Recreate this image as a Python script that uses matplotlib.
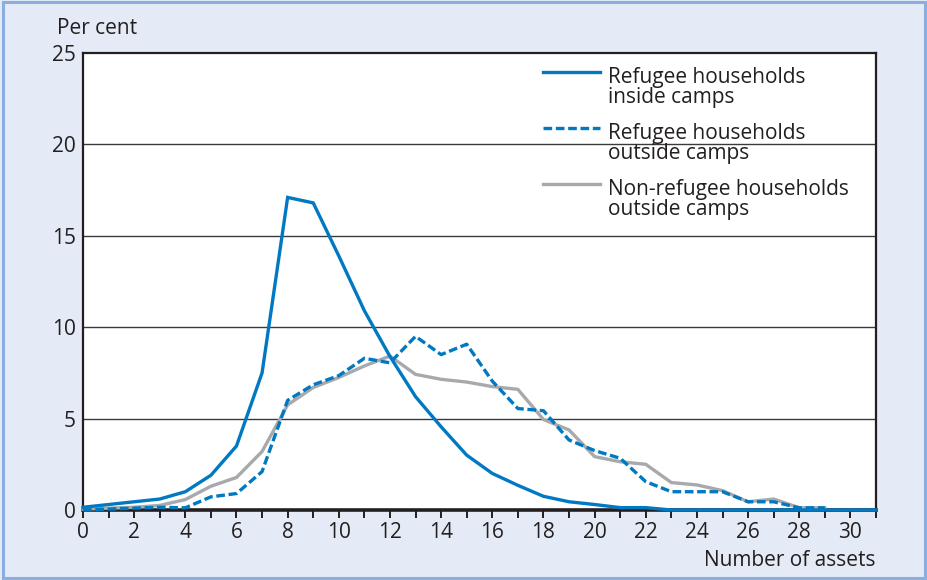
import matplotlib
matplotlib.use("Agg")
import matplotlib.pyplot as plt
from matplotlib.patches import Rectangle
from matplotlib.lines import Line2D

plt.rcParams['font.family'] = ['Open Sans', 'DejaVu Sans']

# Number of assets owned by a household
assets = list(range(0, 32))

# Share of households (per cent) by number of assets
inside_camps = [0.15, 0.3, 0.45, 0.6, 1.0, 1.9, 3.5, 7.5, 17.1, 16.8, 13.9, 10.9,
                8.4, 6.2, 4.55, 3.0, 2.0, 1.35, 0.75, 0.45, 0.3, 0.13, 0.13, 0.0,
                0.0, 0.0, 0.0, 0.0, 0.0, 0.0, 0.0, 0.0]
outside_camps = [0.0, 0.05, 0.1, 0.15, 0.12, 0.72, 0.9, 2.1, 6.0, 6.85, 7.35, 8.3,
                 8.05, 9.5, 8.5, 9.07, 7.05, 5.55, 5.43, 3.83, 3.25, 2.83, 1.55, 1.0,
                 1.0, 1.0, 0.45, 0.45, 0.12, 0.12]
non_refugee = [0.05, 0.1, 0.15, 0.25, 0.57, 1.3, 1.78, 3.2, 5.75, 6.7, 7.25, 7.88,
               8.42, 7.42, 7.15, 7.0, 6.75, 6.6, 4.95, 4.38, 2.92, 2.64, 2.5, 1.5,
               1.37, 1.06, 0.45, 0.6, 0.12, 0.12]

series_labels = ["Refugee households\ninside camps",
                 "Refugee households\noutside camps",
                 "Non-refugee households\noutside camps"]

x_ticks = list(range(0, 31, 2))
y_ticks = [0, 5, 10, 15, 20, 25]

BLUE = "#0079c2"
GREY = "#a7a9ac"
INK = "#231f20"

fig = plt.figure(figsize=(9.28, 5.8), dpi=100)
fig.patch.set_facecolor("#e4eaf6")
fig.patches.append(Rectangle((0.003, 0.004), 0.994, 0.992, transform=fig.transFigure,
                             fill=False, edgecolor="#8aaee0", linewidth=2.2))

W, H = 928, 580
left, right, top, bottom = 83, 876, 53, 510
ax = fig.add_axes([left / W, (H - bottom) / H, (right - left) / W, (bottom - top) / H])
ax.set_facecolor("white")

ax.set_xlim(0, 31)
ax.set_ylim(0, 25)

for g in y_ticks[1:-1]:
    ax.axhline(g, color="#3a3a3a", linewidth=1.0, zorder=1)

lw = 2.4
dash = (0, (2.6, 1.1))
ax.plot(assets[:len(non_refugee)], non_refugee, color=GREY, linewidth=lw,
        solid_joinstyle="miter", zorder=3, clip_on=False)
ax.plot(assets[:len(outside_camps)], outside_camps, color=BLUE, linewidth=lw,
        linestyle=dash, zorder=4, clip_on=False)
ax.plot(assets[:len(inside_camps)], inside_camps, color=BLUE, linewidth=lw,
        solid_joinstyle="miter", zorder=5, clip_on=False)

# Axes frame
for side in ["top", "left", "right"]:
    ax.spines[side].set_color(INK)
    ax.spines[side].set_linewidth(1.6)
ax.spines["bottom"].set_color(INK)
ax.spines["bottom"].set_linewidth(2.6)

ax.set_xticks(x_ticks)
ax.set_xticks(range(1, 32, 2), minor=True)
ax.set_yticks(y_ticks)
ax.tick_params(axis="x", which="both", direction="out", length=5.5, width=1.4,
               color=INK, labelsize=15, labelcolor=INK, pad=3)
ax.tick_params(axis="y", which="both", length=0, labelsize=15, labelcolor=INK, pad=5)
for lab in ax.get_yticklabels():
    lab.set_verticalalignment("center_baseline")

fig.text(57 / W, 1 - 26 / H, "Per cent", fontsize=15, color=INK, ha="left",
         va="center_baseline")
fig.text(right / W, 1 - 558 / H, "Number of assets", fontsize=15, color=INK,
         ha="right", va="center_baseline")

# Legend: sample line beside the first line of each two-line label
styles = [dict(color=BLUE, linewidth=lw),
          dict(color=BLUE, linewidth=lw, linestyle=dash),
          dict(color=GREY, linewidth=lw)]
entry_y = [72, 128, 184]
for label, st, yy in zip(series_labels, styles, entry_y):
    yf = 1 - yy / H
    fig.lines.append(Line2D([543 / W, 600 / W], [yf, yf], transform=fig.transFigure, **st))
    fig.text(608 / W, yf + 5 / H, label, fontsize=15, color=INK, ha="left", va="top",
             linespacing=0.95, transform=fig.transFigure)

fig.savefig("out.png", dpi=100, facecolor=fig.get_facecolor())
